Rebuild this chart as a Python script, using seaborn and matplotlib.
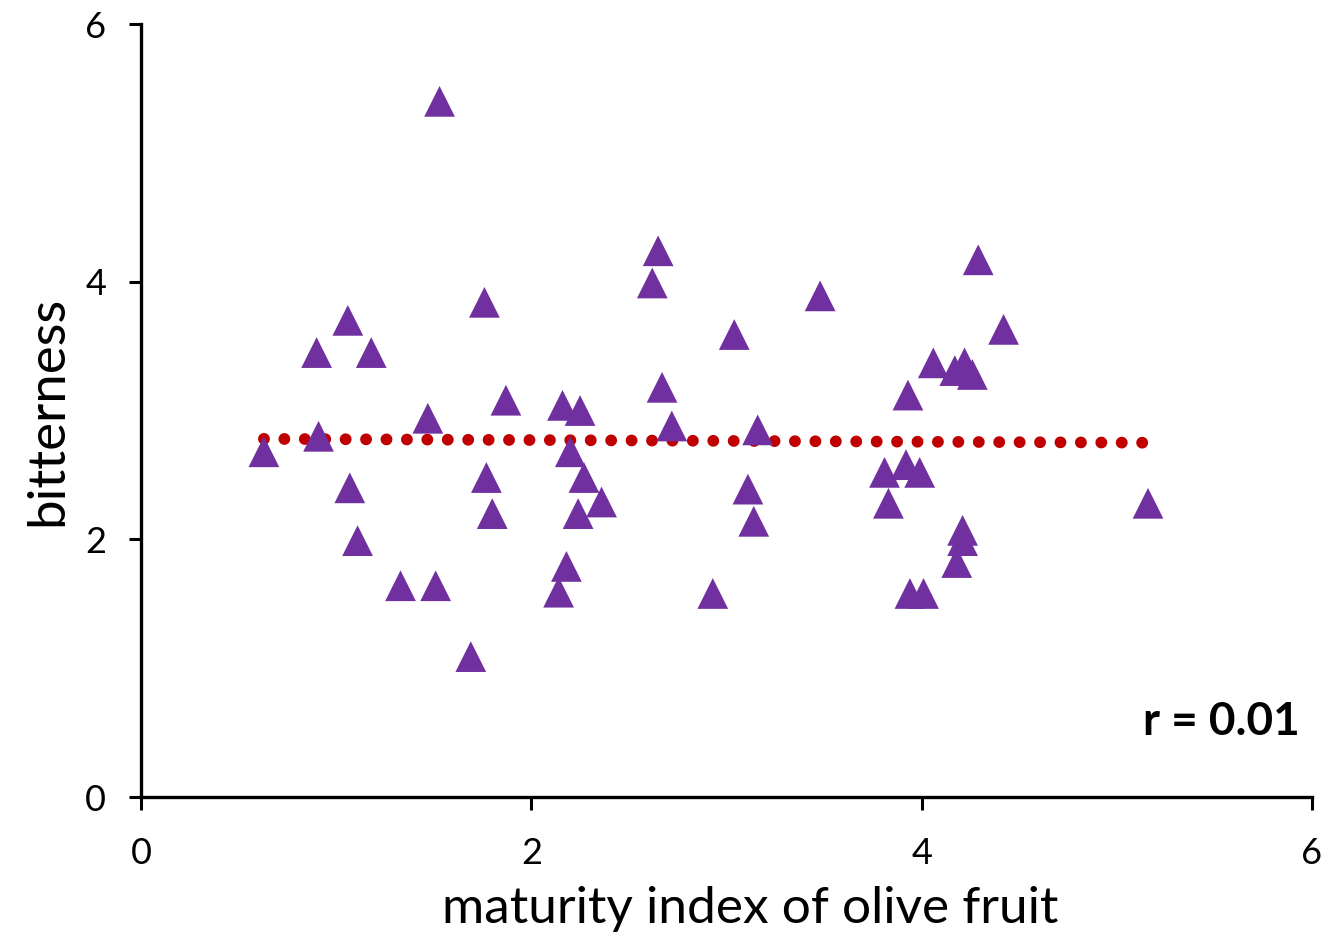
import matplotlib.pyplot as plt
import seaborn as sns
import pandas as pd

# maturity index vs bitterness
maturity = [0.63, 0.90, 0.91, 1.06, 1.07, 1.11, 1.18, 1.33, 1.47, 1.51,
            1.53, 1.69, 1.76, 1.77, 1.80, 1.87, 2.14, 2.18, 2.16, 2.25,
            2.20, 2.27, 2.24, 2.36, 2.62, 2.65, 2.67, 2.72, 2.93, 3.04,
            3.11, 3.14, 3.16, 3.48, 3.81, 3.83, 3.92, 3.99, 3.93, 3.94,
            4.01, 4.06, 4.17, 4.22, 4.26, 4.18, 4.21, 4.21, 4.29, 4.42,
            5.16]
bitterness = [2.68, 3.45, 2.80, 3.70, 2.40, 1.99, 3.45, 1.64, 2.94, 1.64,
              5.40, 1.09, 3.84, 2.48, 2.20, 3.08, 1.59, 1.79, 3.04, 3.00,
              2.68, 2.48, 2.20, 2.29, 3.99, 4.24, 3.18, 2.88, 1.58, 3.59,
              2.39, 2.14, 2.85, 3.89, 2.52, 2.28, 2.58, 2.52, 3.12, 1.58,
              1.58, 3.37, 3.31, 3.37, 3.28, 1.82, 1.99, 2.07, 4.17, 3.63,
              2.28]
trend_x = [0.63, 5.16]
trend_y = [2.78, 2.75]
r_text = 'r = 0.01'

df = pd.DataFrame({'maturity': maturity, 'bitterness': bitterness})

sns.set_style('white')
plt.rcParams['font.family'] = ['Lato', 'DejaVu Sans']
plt.rcParams['text.color'] = 'black'
plt.rcParams['axes.labelcolor'] = 'black'
plt.rcParams['xtick.color'] = 'black'
plt.rcParams['ytick.color'] = 'black'

fig = plt.figure(figsize=(13.36, 9.43), dpi=100)
ax = fig.add_axes([0.1055, 0.1548, 0.8765, 0.8197])

sns.lineplot(x=trend_x, y=trend_y, ax=ax, color='#C00000', linewidth=8.5,
             linestyle=(0, (0.01, 1.72)), dash_capstyle='round', zorder=1)
sns.scatterplot(data=df, x='maturity', y='bitterness', ax=ax, marker='^',
                s=490, color='#7030A0', edgecolor='none', zorder=2)

ax.set_xlim(0, 6)
ax.set_ylim(0, 6)
ax.set_xticks([0, 2, 4, 6])
ax.set_yticks([0, 2, 4, 6])
ax.set_xlabel('maturity index of olive fruit', fontsize=37)
ax.set_ylabel('bitterness', fontsize=38, labelpad=10)
ax.xaxis.set_label_coords(0.52, -0.115)
ax.tick_params(axis='both', labelsize=26, direction='out', length=9,
               width=2.2, pad=16, bottom=True, left=True)
ax.tick_params(axis='x', pad=20)

for side in ['top', 'right']:
    ax.spines[side].set_visible(False)
for side in ['left', 'bottom']:
    ax.spines[side].set_linewidth(2.4)
    ax.spines[side].set_color('black')

ax.text(5.94, 0.58, r_text, fontsize=33, fontweight='bold',
        ha='right', va='center')

plt.savefig('out.png', dpi=100)
